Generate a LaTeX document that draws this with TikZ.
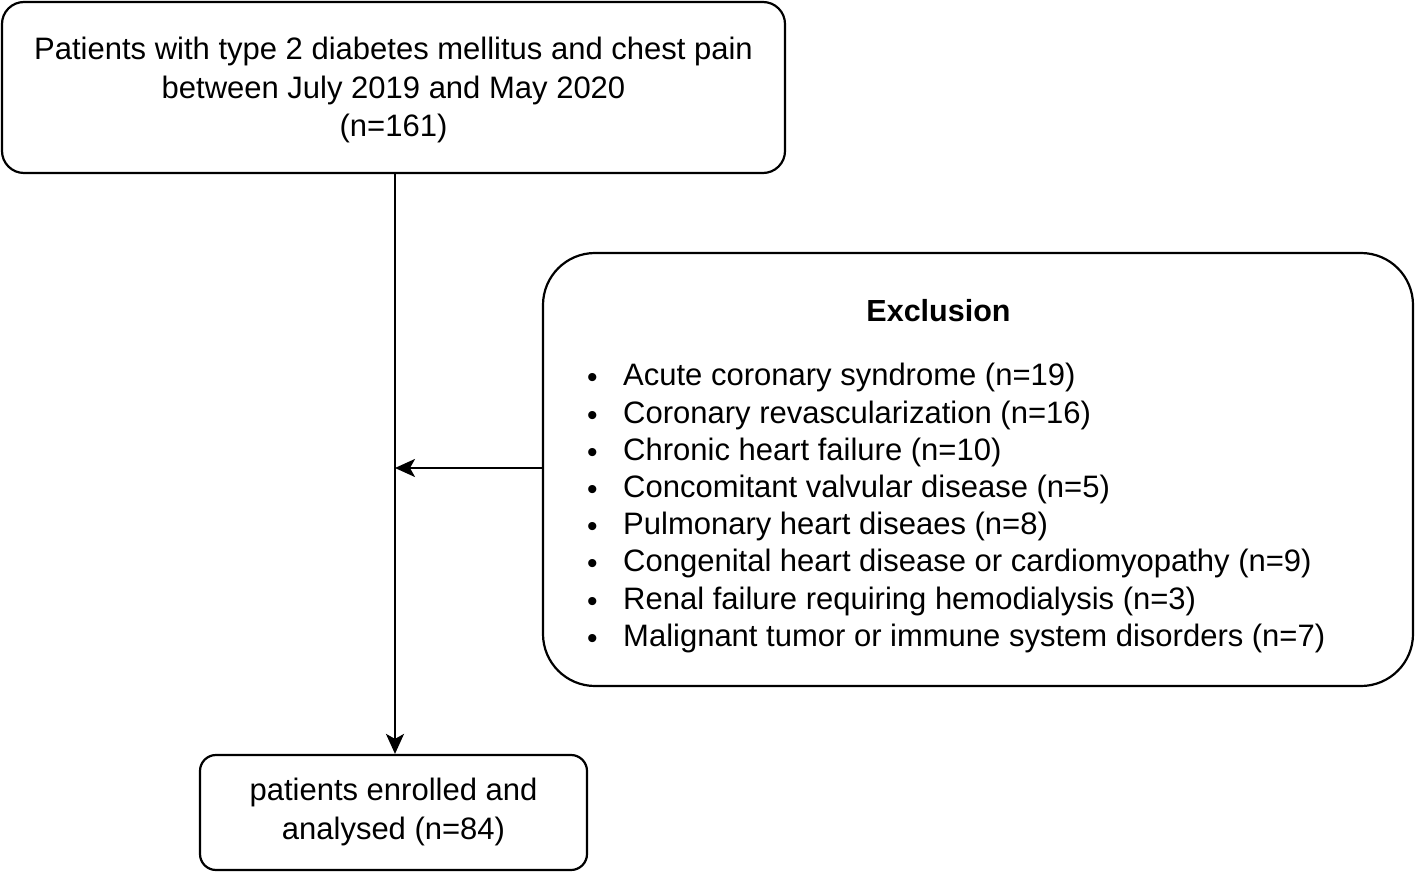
\documentclass[tikz,border=0pt]{standalone}
\usepackage{fontspec}
\setmainfont{Liberation Sans}
\usetikzlibrary{arrows.meta}
\begin{document}
\begin{tikzpicture}[x=1pt,y=-1pt,
  box/.style={draw,line width=2.2pt,rectangle,inner sep=0pt},
  txt/.style={font=\fontsize{31}{38.5}\selectfont,align=center,inner sep=0pt},
  conn/.style={line width=2.2pt,-{Stealth[length=20pt,width=18pt,inset=5pt]}}]
\useasboundingbox (0,0) rectangle (1416,874);
\newcommand{\bu}{\makebox[33pt][l]{\hspace*{-3pt}\raisebox{-2pt}{\fontsize{30}{30}\selectfont •}}}
\node[box,rounded corners=22pt,minimum width=783pt,minimum height=171pt] (top) at (393.5,87.5) {};
\node[txt] (toptxt) at (393.5,90) {Patients with type 2 diabetes mellitus and chest pain\\between July 2019 and May 2020\\(n=161)};
\node[box,rounded corners=52pt,minimum width=870pt,minimum height=433pt] (excl) at (978,469.5) {};
\node[font=\fontsize{30.5}{34}\selectfont\bfseries,inner sep=0pt] (title) at (938.5,311) {Exclusion};
\node[font=\fontsize{31}{37.2}\selectfont,align=left,inner sep=0pt,anchor=west] (list) at (590,508) {%
\bu Acute coronary syndrome (n=19)\\
\bu Coronary revascularization (n=16)\\
\bu Chronic heart failure (n=10)\\
\bu Concomitant valvular disease (n=5)\\
\bu Pulmonary heart diseaes (n=8)\\
\bu Congenital heart disease or cardiomyopathy (n=9)\\
\bu Renal failure requiring hemodialysis (n=3)\\
\bu Malignant tumor or immune system disorders (n=7)};
\node[box,rounded corners=16pt,minimum width=387pt,minimum height=115pt] (bot) at (393.5,812.5) {};
\node[txt] (bottxt) at (393.5,812) {patients enrolled and\\analysed (n=84)};
\coordinate (join) at (395,468);
\draw[conn] (top.south -| join) -- (bot.north -| join);
\draw[conn] (excl.west |- join) -- (join);
\end{tikzpicture}
\end{document}
